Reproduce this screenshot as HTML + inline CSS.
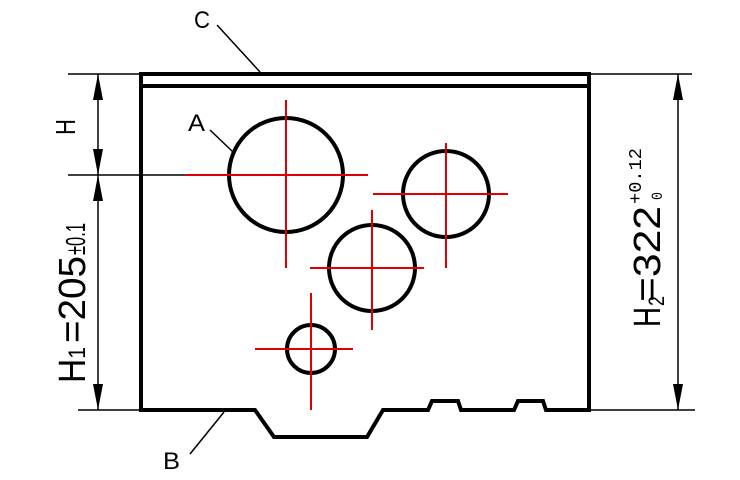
<!DOCTYPE html>
<html><head><style>body{margin:0;background:#fff}svg{display:block}</style></head><body>
<svg width="740" height="480" viewBox="0 0 740 480" xmlns="http://www.w3.org/2000/svg">
<g stroke="#000" stroke-width="4" fill="none">
<line x1="141" y1="74" x2="589" y2="74"/>
<line x1="141" y1="86" x2="589" y2="86"/>
<polyline points="141,72 141,410 255,410 274,437 367,437 383,410 428,410 432,401 458,401 461,410 514,410 518,401 543,401 546,410 589,410 589,72"/>
<circle cx="286" cy="175" r="57"/>
<circle cx="446" cy="194" r="43"/>
<circle cx="372" cy="268" r="43"/>
<circle cx="311" cy="349" r="24"/>
</g>
<g stroke="#e00000" stroke-width="2">
<line x1="186" y1="175" x2="368" y2="175"/><line x1="286" y1="100" x2="286" y2="268"/>
<line x1="373" y1="194" x2="508" y2="194"/><line x1="446" y1="143" x2="446" y2="268"/>
<line x1="310" y1="268" x2="424" y2="268"/><line x1="372" y1="210" x2="372" y2="330"/>
<line x1="255" y1="349" x2="353" y2="349"/><line x1="311" y1="293" x2="311" y2="410"/>
</g>
<g stroke="#000" stroke-width="1.5">
<line x1="68" y1="74" x2="141" y2="74"/>
<line x1="68" y1="175" x2="186" y2="175"/>
<line x1="78" y1="410" x2="141" y2="410"/>
<line x1="98" y1="74" x2="98" y2="410"/>
<line x1="589" y1="74" x2="692" y2="74"/>
<line x1="589" y1="410" x2="695" y2="410"/>
<line x1="678" y1="74" x2="678" y2="410"/>
<line x1="217" y1="25" x2="260" y2="72"/>
<line x1="210" y1="130" x2="233" y2="152"/>
<line x1="190" y1="454" x2="224" y2="412"/>
</g>
<g fill="#000">
<polygon points="98,74 93,100 103,100"/>
<polygon points="98,175 93,149 103,149"/>
<polygon points="98,175 93,201 103,201"/>
<polygon points="98,410 93,384 103,384"/>
<polygon points="678,74 673,100 683,100"/>
<polygon points="678,410 673,384 683,384"/>
</g>
<g font-family="Liberation Sans, sans-serif" fill="#000">
<text x="194" y="28" font-size="24" textLength="16" lengthAdjust="spacingAndGlyphs">C</text>
<text x="188" y="131" font-size="24" textLength="17" lengthAdjust="spacingAndGlyphs">A</text>
<text x="163" y="469" font-size="24" textLength="17" lengthAdjust="spacingAndGlyphs">B</text>
<text transform="translate(75,135) rotate(-90)" font-size="28" textLength="16" lengthAdjust="spacingAndGlyphs">H</text>
<text transform="translate(85,383) rotate(-90)" font-size="38" textLength="36" lengthAdjust="spacingAndGlyphs">H<tspan font-size="24" dy="0">1</tspan></text>
<text transform="translate(85,343) rotate(-90)" font-size="38" textLength="87" lengthAdjust="spacingAndGlyphs">=205</text>
<text transform="translate(85,255) rotate(-90)" font-size="28" textLength="32" lengthAdjust="spacingAndGlyphs">±0.1</text>
<text transform="translate(660,327) rotate(-90)" font-size="38" textLength="20" lengthAdjust="spacingAndGlyphs">H</text>
<text transform="translate(664,306) rotate(-90)" font-size="22" textLength="10" lengthAdjust="spacingAndGlyphs">2</text>
<text transform="translate(660,302) rotate(-90)" font-size="38" textLength="96" lengthAdjust="spacingAndGlyphs">=322</text>
<text transform="translate(641,204) rotate(-90)" font-size="18" font-family="Liberation Mono, monospace" textLength="56" lengthAdjust="spacingAndGlyphs">+0.12</text>
<text transform="translate(662,200) rotate(-90)" font-size="16" font-family="Liberation Mono, monospace" textLength="8" lengthAdjust="spacingAndGlyphs">0</text>
</g>
</svg>
</body></html>
